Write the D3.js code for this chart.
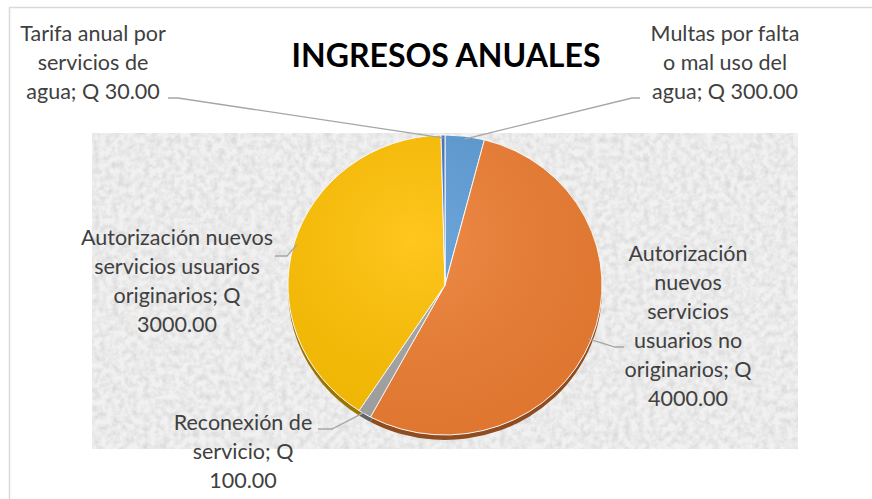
<!DOCTYPE html>
<html>
<head>
<meta charset="utf-8">
<title>Ingresos anuales</title>
<script src="https://cdn.jsdelivr.net/npm/d3@7"></script>
<style>
  body { margin: 0; background: #fff; }
  svg text { font-family: Lato, "Open Sans", sans-serif; }
</style>
</head>
<body>
<script>
// data, in the order the slices go round (clockwise from 12 o'clock)
var categories = ["Multas por falta o mal uso del agua",
                  "Autorización nuevos servicios usuarios no originarios",
                  "Reconexión de servicio",
                  "Autorización nuevos servicios usuarios originarios",
                  "Tarifa anual por servicios de agua"];
var values = [300, 4000, 100, 3000, 30];
var valueLabels = ["Q 300.00", "Q 4000.00", "Q 100.00", "Q 3000.00", "Q 30.00"];
// how each label wraps in the picture
var labelLines = [
    ["Multas por falta", "o mal uso del", "agua; Q 300.00"],
    ["Autorización", "nuevos", "servicios", "usuarios no", "originarios; Q", "4000.00"],
    ["Reconexión de", "servicio; Q", "100.00"],
    ["Autorización nuevos", "servicios usuarios", "originarios; Q", "3000.00"],
    ["Tarifa anual por", "servicios de", "agua; Q 30.00"]
];
var title = "INGRESOS ANUALES";

var colors = ["#5b9bd5", "#ed7d31", "#a5a5a5", "#ffc000", "#4472c4"];

// layout
var width = 872, height = 499;
var cx = 445, cy = 285, rx = 157, ry = 150, depth = 5;
var lineH = 29;
// label block centre x / first line y, and where the leader line leaves the label
var labelPos = [
    {x: 725, y: 33, ax: 640, ay: 98, hx: 632},
    {x: 688, y: 253, ax: 624, ay: 347, hx: 615},
    {x: 243, y: 422, ax: 318, ay: 429, hx: 332},
    {x: 177, y: 237, ax: 275, ay: 256, hx: 287},
    {x: 93, y: 33, ax: 168, ay: 98, hx: 178}
];

var svg = d3.select("body").append("svg")
    .attr("width", width)
    .attr("height", height);

var defs = svg.append("defs");

// granite-like texture for the plot area
var f = defs.append("filter").attr("id", "granite")
    .attr("x", 0).attr("y", 0).attr("width", "100%").attr("height", "100%");
f.append("feTurbulence")
    .attr("type", "fractalNoise")
    .attr("baseFrequency", "0.16")
    .attr("numOctaves", 3)
    .attr("seed", 4)
    .attr("result", "noise");
f.append("feColorMatrix")
    .attr("in", "noise")
    .attr("type", "matrix")
    .attr("values", "0 0 0 0 0.64  0 0 0 0 0.64  0 0 0 0 0.64  1.4 0 0 0 -0.48");

var shade = defs.append("radialGradient").attr("id", "shade")
    .attr("cx", "40%").attr("cy", "35%").attr("r", "75%");
shade.append("stop").attr("offset", "0%").attr("stop-color", "#fff").attr("stop-opacity", 0.12);
shade.append("stop").attr("offset", "100%").attr("stop-color", "#000").attr("stop-opacity", 0.06);

// chart frame (only top and left show)
svg.append("path")
    .attr("d", "M9.5," + height + "V7.5H" + width)
    .attr("fill", "none")
    .attr("stroke", "#d9d9d9")
    .attr("stroke-width", 1.5);

// plot area
svg.append("rect")
    .attr("x", 92).attr("y", 133)
    .attr("width", 706).attr("height", 316)
    .attr("fill", "#f1f1f1");
svg.append("rect")
    .attr("x", 92).attr("y", 133)
    .attr("width", 706).attr("height", 316)
    .attr("filter", "url(#granite)");

// title
svg.append("text")
    .attr("x", 446).attr("y", 67)
    .attr("text-anchor", "middle")
    .attr("font-size", 32)
    .attr("font-weight", "bold")
    .attr("fill", "#000")
    .text(title);

// pie
var pie = d3.pie().sort(null).value(function (d) { return d; });
var arcs = pie(values);
var arc = d3.arc().innerRadius(0).outerRadius(rx);
var sy = ry / rx;

// side wall (3d depth)
var sideG = svg.append("g")
    .attr("transform", "translate(" + cx + "," + (cy + depth) + ") scale(1," + sy + ")");
sideG.selectAll("path")
    .data(arcs)
    .enter().append("path")
    .attr("d", arc)
    .attr("fill", function (d, i) { return d3.color(colors[i]).darker(1.4); });

var topG = svg.append("g")
    .attr("transform", "translate(" + cx + "," + cy + ") scale(1," + sy + ")");
topG.selectAll("path")
    .data(arcs)
    .enter().append("path")
    .attr("d", arc)
    .attr("fill", function (d, i) { return colors[i]; })
    .attr("stroke", "#fff")
    .attr("stroke-width", 1)
    .attr("vector-effect", "non-scaling-stroke");
topG.append("circle")
    .attr("r", rx)
    .attr("fill", "url(#shade)")
    .attr("pointer-events", "none");

// leader lines
var edge = d3.arc().innerRadius(rx - 3).outerRadius(rx - 3);
svg.append("g").selectAll("path")
    .data(arcs)
    .enter().append("path")
    .attr("fill", "none")
    .attr("stroke", "#a6a6a6")
    .attr("stroke-width", 1.3)
    .attr("d", function (d, i) {
        var c = edge.centroid(d);
        var px = cx + c[0], py = cy + c[1] * sy;
        var p = labelPos[i];
        return "M" + p.ax + "," + p.ay + "L" + p.hx + "," + p.ay + "L" + px + "," + py;
    });

// data labels
var labels = svg.append("g").selectAll("text")
    .data(arcs)
    .enter().append("text")
    .attr("text-anchor", "middle")
    .attr("font-size", 21.5)
    .attr("fill", "#404040")
    .attr("x", function (d, i) { return labelPos[i].x; })
    .attr("y", function (d, i) { return labelPos[i].y; });
labels.selectAll("tspan")
    .data(function (d, i) { return labelLines[i].map(function (s) { return {s: s, i: i}; }); })
    .enter().append("tspan")
    .attr("x", function (d) { return labelPos[d.i].x; })
    .attr("dy", function (d, j) { return j === 0 ? "0.35em" : lineH; })
    .text(function (d) { return d.s; });
</script>
</body>
</html>
